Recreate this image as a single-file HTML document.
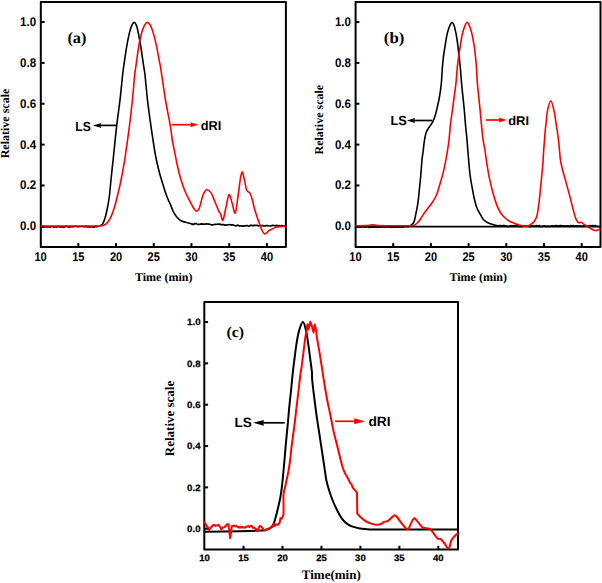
<!DOCTYPE html><html><head><meta charset="utf-8"><style>html,body{margin:0;padding:0;background:#fff;}svg{display:block;text-rendering:geometricPrecision}.tk{font-family:"Liberation Sans",sans-serif;font-weight:bold;fill:#000}.sf{font-family:"Liberation Serif",serif;font-weight:bold;fill:#000}</style></head><body>
<svg width="602" height="583" viewBox="0 0 602 583">
<rect width="602" height="583" fill="#fff"/>
<defs><marker id="ab" markerWidth="10" markerHeight="6" refX="0" refY="3" orient="auto" markerUnits="userSpaceOnUse"><path d="M0,3 L9,0 L7,3 L9,6 Z" fill="#000"/></marker></defs>
<rect x="40.8" y="2.0" width="245.09999999999997" height="244.9" fill="none" stroke="#000" stroke-width="2.0" stroke-linejoin="round"/>
<line x1="40.8" y1="226.30" x2="44.599999999999994" y2="226.30" stroke="#000" stroke-width="2"/>
<line x1="40.8" y1="185.45" x2="44.599999999999994" y2="185.45" stroke="#000" stroke-width="2"/>
<line x1="40.8" y1="144.60" x2="44.599999999999994" y2="144.60" stroke="#000" stroke-width="2"/>
<line x1="40.8" y1="103.75" x2="44.599999999999994" y2="103.75" stroke="#000" stroke-width="2"/>
<line x1="40.8" y1="62.90" x2="44.599999999999994" y2="62.90" stroke="#000" stroke-width="2"/>
<line x1="40.8" y1="22.05" x2="44.599999999999994" y2="22.05" stroke="#000" stroke-width="2"/>
<line x1="78.32" y1="246.9" x2="78.32" y2="243.1" stroke="#000" stroke-width="2"/>
<line x1="116.04" y1="246.9" x2="116.04" y2="243.1" stroke="#000" stroke-width="2"/>
<line x1="153.76" y1="246.9" x2="153.76" y2="243.1" stroke="#000" stroke-width="2"/>
<line x1="191.48" y1="246.9" x2="191.48" y2="243.1" stroke="#000" stroke-width="2"/>
<line x1="229.20" y1="246.9" x2="229.20" y2="243.1" stroke="#000" stroke-width="2"/>
<line x1="266.92" y1="246.9" x2="266.92" y2="243.1" stroke="#000" stroke-width="2"/>

<rect x="355.6" y="2.0" width="244.89999999999998" height="244.9" fill="none" stroke="#000" stroke-width="2.0" stroke-linejoin="round"/>
<line x1="355.6" y1="226.30" x2="359.40000000000003" y2="226.30" stroke="#000" stroke-width="2"/>
<line x1="355.6" y1="185.45" x2="359.40000000000003" y2="185.45" stroke="#000" stroke-width="2"/>
<line x1="355.6" y1="144.60" x2="359.40000000000003" y2="144.60" stroke="#000" stroke-width="2"/>
<line x1="355.6" y1="103.75" x2="359.40000000000003" y2="103.75" stroke="#000" stroke-width="2"/>
<line x1="355.6" y1="62.90" x2="359.40000000000003" y2="62.90" stroke="#000" stroke-width="2"/>
<line x1="355.6" y1="22.05" x2="359.40000000000003" y2="22.05" stroke="#000" stroke-width="2"/>
<line x1="393.20" y1="246.9" x2="393.20" y2="243.1" stroke="#000" stroke-width="2"/>
<line x1="430.90" y1="246.9" x2="430.90" y2="243.1" stroke="#000" stroke-width="2"/>
<line x1="468.60" y1="246.9" x2="468.60" y2="243.1" stroke="#000" stroke-width="2"/>
<line x1="506.30" y1="246.9" x2="506.30" y2="243.1" stroke="#000" stroke-width="2"/>
<line x1="544.00" y1="246.9" x2="544.00" y2="243.1" stroke="#000" stroke-width="2"/>
<line x1="581.70" y1="246.9" x2="581.70" y2="243.1" stroke="#000" stroke-width="2"/>

<rect x="204.3" y="302.0" width="253.7" height="247.60000000000002" fill="none" stroke="#000" stroke-width="2.0" stroke-linejoin="round"/>
<line x1="204.3" y1="528.75" x2="208.10000000000002" y2="528.75" stroke="#000" stroke-width="2"/>
<line x1="204.3" y1="487.40" x2="208.10000000000002" y2="487.40" stroke="#000" stroke-width="2"/>
<line x1="204.3" y1="446.05" x2="208.10000000000002" y2="446.05" stroke="#000" stroke-width="2"/>
<line x1="204.3" y1="404.70" x2="208.10000000000002" y2="404.70" stroke="#000" stroke-width="2"/>
<line x1="204.3" y1="363.35" x2="208.10000000000002" y2="363.35" stroke="#000" stroke-width="2"/>
<line x1="204.3" y1="322.00" x2="208.10000000000002" y2="322.00" stroke="#000" stroke-width="2"/>
<line x1="243.55" y1="549.6" x2="243.55" y2="545.8000000000001" stroke="#000" stroke-width="2"/>
<line x1="282.50" y1="549.6" x2="282.50" y2="545.8000000000001" stroke="#000" stroke-width="2"/>
<line x1="321.45" y1="549.6" x2="321.45" y2="545.8000000000001" stroke="#000" stroke-width="2"/>
<line x1="360.40" y1="549.6" x2="360.40" y2="545.8000000000001" stroke="#000" stroke-width="2"/>
<line x1="399.35" y1="549.6" x2="399.35" y2="545.8000000000001" stroke="#000" stroke-width="2"/>
<line x1="438.30" y1="549.6" x2="438.30" y2="545.8000000000001" stroke="#000" stroke-width="2"/>

<text class="tk" x="36.20" y="230.30" font-size="12.6" text-anchor="end" textLength="16.1" lengthAdjust="spacingAndGlyphs">0.0</text>
<text class="tk" x="36.20" y="189.45" font-size="12.6" text-anchor="end" textLength="16.1" lengthAdjust="spacingAndGlyphs">0.2</text>
<text class="tk" x="36.20" y="148.60" font-size="12.6" text-anchor="end" textLength="16.1" lengthAdjust="spacingAndGlyphs">0.4</text>
<text class="tk" x="36.20" y="107.75" font-size="12.6" text-anchor="end" textLength="16.1" lengthAdjust="spacingAndGlyphs">0.6</text>
<text class="tk" x="36.20" y="66.90" font-size="12.6" text-anchor="end" textLength="16.1" lengthAdjust="spacingAndGlyphs">0.8</text>
<text class="tk" x="36.20" y="26.05" font-size="12.6" text-anchor="end" textLength="16.1" lengthAdjust="spacingAndGlyphs">1.0</text>
<text class="tk" x="40.60" y="261" font-size="12.6" text-anchor="middle" textLength="12.3" lengthAdjust="spacingAndGlyphs">10</text>
<text class="tk" x="78.32" y="261" font-size="12.6" text-anchor="middle" textLength="12.3" lengthAdjust="spacingAndGlyphs">15</text>
<text class="tk" x="116.04" y="261" font-size="12.6" text-anchor="middle" textLength="12.3" lengthAdjust="spacingAndGlyphs">20</text>
<text class="tk" x="153.76" y="261" font-size="12.6" text-anchor="middle" textLength="12.3" lengthAdjust="spacingAndGlyphs">25</text>
<text class="tk" x="191.48" y="261" font-size="12.6" text-anchor="middle" textLength="12.3" lengthAdjust="spacingAndGlyphs">30</text>
<text class="tk" x="229.20" y="261" font-size="12.6" text-anchor="middle" textLength="12.3" lengthAdjust="spacingAndGlyphs">35</text>
<text class="tk" x="266.92" y="261" font-size="12.6" text-anchor="middle" textLength="12.3" lengthAdjust="spacingAndGlyphs">40</text>
<text class="tk" x="351.00" y="230.30" font-size="12.6" text-anchor="end" textLength="16.1" lengthAdjust="spacingAndGlyphs">0.0</text>
<text class="tk" x="351.00" y="189.45" font-size="12.6" text-anchor="end" textLength="16.1" lengthAdjust="spacingAndGlyphs">0.2</text>
<text class="tk" x="351.00" y="148.60" font-size="12.6" text-anchor="end" textLength="16.1" lengthAdjust="spacingAndGlyphs">0.4</text>
<text class="tk" x="351.00" y="107.75" font-size="12.6" text-anchor="end" textLength="16.1" lengthAdjust="spacingAndGlyphs">0.6</text>
<text class="tk" x="351.00" y="66.90" font-size="12.6" text-anchor="end" textLength="16.1" lengthAdjust="spacingAndGlyphs">0.8</text>
<text class="tk" x="351.00" y="26.05" font-size="12.6" text-anchor="end" textLength="16.1" lengthAdjust="spacingAndGlyphs">1.0</text>
<text class="tk" x="355.50" y="261" font-size="12.6" text-anchor="middle" textLength="12.3" lengthAdjust="spacingAndGlyphs">10</text>
<text class="tk" x="393.20" y="261" font-size="12.6" text-anchor="middle" textLength="12.3" lengthAdjust="spacingAndGlyphs">15</text>
<text class="tk" x="430.90" y="261" font-size="12.6" text-anchor="middle" textLength="12.3" lengthAdjust="spacingAndGlyphs">20</text>
<text class="tk" x="468.60" y="261" font-size="12.6" text-anchor="middle" textLength="12.3" lengthAdjust="spacingAndGlyphs">25</text>
<text class="tk" x="506.30" y="261" font-size="12.6" text-anchor="middle" textLength="12.3" lengthAdjust="spacingAndGlyphs">30</text>
<text class="tk" x="544.00" y="261" font-size="12.6" text-anchor="middle" textLength="12.3" lengthAdjust="spacingAndGlyphs">35</text>
<text class="tk" x="581.70" y="261" font-size="12.6" text-anchor="middle" textLength="12.3" lengthAdjust="spacingAndGlyphs">40</text>
<text class="tk" x="200.50" y="532.05" font-size="9.2" stroke="#000" stroke-width="0.25" text-anchor="end" textLength="13.4" lengthAdjust="spacingAndGlyphs">0.0</text>
<text class="tk" x="200.50" y="490.70" font-size="9.2" stroke="#000" stroke-width="0.25" text-anchor="end" textLength="13.4" lengthAdjust="spacingAndGlyphs">0.2</text>
<text class="tk" x="200.50" y="449.35" font-size="9.2" stroke="#000" stroke-width="0.25" text-anchor="end" textLength="13.4" lengthAdjust="spacingAndGlyphs">0.4</text>
<text class="tk" x="200.50" y="408.00" font-size="9.2" stroke="#000" stroke-width="0.25" text-anchor="end" textLength="13.4" lengthAdjust="spacingAndGlyphs">0.6</text>
<text class="tk" x="200.50" y="366.65" font-size="9.2" stroke="#000" stroke-width="0.25" text-anchor="end" textLength="13.4" lengthAdjust="spacingAndGlyphs">0.8</text>
<text class="tk" x="200.50" y="325.30" font-size="9.2" stroke="#000" stroke-width="0.25" text-anchor="end" textLength="13.4" lengthAdjust="spacingAndGlyphs">1.0</text>
<text class="tk" x="204.60" y="560.6" font-size="9.2" stroke="#000" stroke-width="0.25" text-anchor="middle" textLength="10.6" lengthAdjust="spacingAndGlyphs">10</text>
<text class="tk" x="243.55" y="560.6" font-size="9.2" stroke="#000" stroke-width="0.25" text-anchor="middle" textLength="10.6" lengthAdjust="spacingAndGlyphs">15</text>
<text class="tk" x="282.50" y="560.6" font-size="9.2" stroke="#000" stroke-width="0.25" text-anchor="middle" textLength="10.6" lengthAdjust="spacingAndGlyphs">20</text>
<text class="tk" x="321.45" y="560.6" font-size="9.2" stroke="#000" stroke-width="0.25" text-anchor="middle" textLength="10.6" lengthAdjust="spacingAndGlyphs">25</text>
<text class="tk" x="360.40" y="560.6" font-size="9.2" stroke="#000" stroke-width="0.25" text-anchor="middle" textLength="10.6" lengthAdjust="spacingAndGlyphs">30</text>
<text class="tk" x="399.35" y="560.6" font-size="9.2" stroke="#000" stroke-width="0.25" text-anchor="middle" textLength="10.6" lengthAdjust="spacingAndGlyphs">35</text>
<text class="tk" x="438.30" y="560.6" font-size="9.2" stroke="#000" stroke-width="0.25" text-anchor="middle" textLength="10.6" lengthAdjust="spacingAndGlyphs">40</text>
<text class="sf" transform="translate(9.0,123.5) rotate(-90)" font-size="12" text-anchor="middle">Relative scale</text>
<text class="sf" transform="translate(323.3,119.7) rotate(-90)" font-size="12" text-anchor="middle">Relative scale</text>
<text class="sf" transform="translate(173.9,418.5) rotate(-90)" font-size="13" text-anchor="middle">Relative scale</text>
<text class="sf" x="163.7" y="280.6" font-size="12" text-anchor="middle">Time (min)</text>
<text class="sf" x="478.2" y="280.8" font-size="12" text-anchor="middle">Time (min)</text>
<text class="sf" x="331.3" y="579.2" font-size="13" text-anchor="middle">Time(min)</text>
<text class="sf" x="67.4" y="42.7" font-size="16" textLength="19.0" lengthAdjust="spacingAndGlyphs">(a)</text>
<text class="sf" x="383.8" y="42.6" font-size="16" textLength="20.5" lengthAdjust="spacingAndGlyphs">(b)</text>
<text class="sf" x="226.4" y="336.8" font-size="15" textLength="17.6" lengthAdjust="spacingAndGlyphs">(c)</text>
<path d="M41.00,226.57 L42.30,227.21 L43.60,227.13 L44.90,226.67 L46.20,226.88 L47.50,226.83 L48.80,227.01 L50.10,227.13 L51.40,226.50 L52.70,226.43 L54.00,227.16 L55.30,226.79 L56.60,227.08 L57.90,226.39 L59.20,226.79 L60.50,227.03 L61.80,226.58 L63.10,227.22 L64.40,227.18 L65.70,226.39 L67.00,226.38 L68.30,226.84 L69.60,227.19 L70.90,226.69 L72.20,226.54 L73.50,226.72 L74.80,226.36 L76.10,226.53 L77.40,226.72 L78.70,226.76 L80.00,226.52 L81.30,226.52 L82.60,226.50 L83.90,226.71 L85.20,226.56 L86.50,226.31 L87.80,227.04 L89.10,226.78 L90.40,226.85 L91.70,226.44 L93.00,227.16 L94.30,227.04 L95.60,226.37 L96.90,226.55" fill="none" stroke="#000" stroke-width="1.7" stroke-linejoin="round" stroke-linecap="round"/>
<path d="M192.30,224.46 L193.60,224.46 L194.90,223.57 L196.20,223.61 L197.50,224.37 L198.80,224.28 L200.10,224.23 L201.40,223.87 L202.70,224.18 L204.00,224.19 L205.30,224.17 L206.60,223.77 L207.90,224.09 L209.20,224.10 L210.50,224.48 L211.80,224.80 L213.10,224.80 L214.40,224.45 L215.70,224.40 L217.00,224.27 L218.30,224.08 L219.60,224.13 L220.90,224.61 L222.20,224.51 L223.50,224.64 L224.80,225.21 L226.10,224.91 L227.40,225.00 L228.70,224.74 L230.00,224.59 L231.30,224.95 L232.60,224.82 L233.90,225.26 L235.20,225.81 L236.50,225.55 L237.80,225.12 L239.10,225.89 L240.40,225.85 L241.70,225.85 L243.00,226.09 L244.30,225.94 L245.60,225.93 L246.90,225.45 L248.20,226.05 L249.50,225.99 L250.80,225.15 L252.10,225.71 L253.40,225.63 L254.70,225.37 L256.00,225.46 L257.30,225.43 L258.60,225.88 L259.90,225.48 L261.20,225.82 L262.50,225.36 L263.80,225.91 L265.10,225.94 L266.40,225.52 L267.70,225.64 L269.00,226.01 L270.30,225.83 L271.60,225.61 L272.90,225.36 L274.20,225.48 L275.50,225.87 L276.80,225.35 L278.10,226.11 L279.40,225.49 L280.70,226.15 L282.00,225.56 L283.30,226.23 L284.60,225.99" fill="none" stroke="#000" stroke-width="1.7" stroke-linejoin="round" stroke-linecap="round"/>
<path d="M97.00,226.50 C97.37,226.43 98.23,226.58 99.20,226.10 C100.17,225.62 101.80,225.02 102.80,223.60 C103.80,222.18 104.43,220.20 105.20,217.60 C105.97,215.00 106.70,211.60 107.40,208.00 C108.10,204.40 108.87,200.00 109.40,196.00 C109.93,192.00 110.20,188.00 110.60,184.00 C111.00,180.00 111.38,176.00 111.80,172.00 C112.22,168.00 112.73,163.42 113.10,160.00 C113.47,156.58 113.40,157.22 114.00,151.50 C114.60,145.78 115.70,134.28 116.70,125.70 C117.70,117.12 119.02,108.45 120.00,100.00 C120.98,91.55 121.98,80.60 122.60,75.00 C123.22,69.40 123.27,69.53 123.70,66.40 C124.13,63.27 124.68,59.62 125.20,56.20 C125.72,52.78 126.20,49.33 126.80,45.90 C127.40,42.47 128.25,38.18 128.80,35.60 C129.35,33.02 129.60,32.12 130.10,30.40 C130.60,28.68 131.12,26.63 131.80,25.30 C132.48,23.97 133.43,22.40 134.20,22.40 C134.97,22.40 135.80,23.97 136.40,25.30 C137.00,26.63 137.40,28.68 137.80,30.40 C138.20,32.12 138.32,33.02 138.80,35.60 C139.28,38.18 140.13,42.47 140.70,45.90 C141.27,49.33 141.70,52.78 142.20,56.20 C142.70,59.62 143.23,63.27 143.70,66.40 C144.17,69.53 144.37,69.40 145.00,75.00 C145.63,80.60 146.52,91.55 147.50,100.00 C148.48,108.45 149.68,117.12 150.90,125.70 C152.12,134.28 153.73,145.12 154.80,151.50 C155.87,157.88 156.43,160.13 157.30,164.00 C158.17,167.87 159.13,171.53 160.00,174.70 C160.87,177.87 161.65,180.20 162.50,183.00 C163.35,185.80 164.23,188.92 165.10,191.50 C165.97,194.08 166.83,196.37 167.70,198.50 C168.57,200.63 169.22,201.82 170.30,204.30 C171.38,206.78 172.63,210.80 174.20,213.40 C175.77,216.00 177.82,218.42 179.70,219.90 C181.58,221.38 183.40,221.62 185.50,222.30 C187.60,222.98 191.17,223.72 192.30,224.00" fill="none" stroke="#000" stroke-width="1.6" stroke-linejoin="round" stroke-linecap="round"/>
<path d="M41.00,226.00 C45.83,226.00 61.50,226.00 70.00,226.00 C78.50,226.00 86.73,226.03 92.00,226.00 C97.27,225.97 99.20,226.20 101.60,225.80 C104.00,225.40 104.90,224.97 106.40,223.60 C107.90,222.23 109.30,220.20 110.60,217.60 C111.90,215.00 113.07,211.60 114.20,208.00 C115.33,204.40 116.40,200.00 117.40,196.00 C118.40,192.00 119.33,188.00 120.20,184.00 C121.07,180.00 121.85,176.00 122.60,172.00 C123.35,168.00 124.15,163.42 124.70,160.00 C125.25,156.58 125.10,157.22 125.90,151.50 C126.70,145.78 128.42,134.28 129.50,125.70 C130.58,117.12 131.53,108.45 132.40,100.00 C133.27,91.55 134.12,80.60 134.70,75.00 C135.28,69.40 135.47,69.53 135.90,66.40 C136.33,63.27 136.82,59.62 137.30,56.20 C137.78,52.78 138.20,49.33 138.80,45.90 C139.40,42.47 140.30,38.18 140.90,35.60 C141.50,33.02 141.80,32.12 142.40,30.40 C143.00,28.68 143.70,26.67 144.50,25.30 C145.30,23.93 146.23,22.20 147.20,22.20 C148.17,22.20 149.42,23.93 150.30,25.30 C151.18,26.67 151.88,28.68 152.50,30.40 C153.12,32.12 153.33,33.02 154.00,35.60 C154.67,38.18 155.77,42.47 156.50,45.90 C157.23,49.33 157.75,52.78 158.40,56.20 C159.05,59.62 159.85,63.27 160.40,66.40 C160.95,69.53 160.85,69.40 161.70,75.00 C162.55,80.60 164.07,91.55 165.50,100.00 C166.93,108.45 169.17,119.03 170.30,125.70 C171.43,132.37 171.55,135.47 172.30,140.00 C173.05,144.53 173.95,148.62 174.80,152.90 C175.65,157.18 176.43,161.42 177.40,165.70 C178.37,169.98 179.32,174.30 180.60,178.60 C181.88,182.90 183.50,187.63 185.10,191.50 C186.70,195.37 188.68,198.88 190.20,201.80 C191.72,204.72 193.13,207.42 194.20,209.00 C195.27,210.58 195.75,211.42 196.60,211.30 C197.45,211.18 198.27,210.90 199.30,208.30 C200.33,205.70 201.60,198.78 202.80,195.70 C204.00,192.62 205.12,190.27 206.50,189.80 C207.88,189.33 209.73,191.00 211.10,192.90 C212.47,194.80 213.48,198.30 214.70,201.20 C215.92,204.10 217.42,208.17 218.40,210.30 C219.38,212.43 219.85,212.33 220.60,214.00 C221.35,215.67 222.05,221.22 222.90,220.30 C223.75,219.38 224.68,212.75 225.70,208.50 C226.72,204.25 227.93,195.72 229.00,194.80 C230.07,193.88 231.07,199.97 232.10,203.00 C233.13,206.03 234.20,214.22 235.20,213.00 C236.20,211.78 237.25,201.33 238.10,195.70 C238.95,190.07 239.63,183.17 240.30,179.20 C240.97,175.23 241.43,171.90 242.10,171.90 C242.77,171.90 243.53,176.15 244.30,179.20 C245.07,182.25 245.78,187.92 246.70,190.20 C247.62,192.48 248.88,191.38 249.80,192.90 C250.72,194.42 251.35,196.40 252.20,199.30 C253.05,202.20 253.83,206.63 254.90,210.30 C255.97,213.97 257.53,218.25 258.60,221.30 C259.67,224.35 260.33,226.48 261.30,228.60 C262.27,230.72 263.03,233.70 264.40,234.00 C265.77,234.30 267.43,231.55 269.50,230.40 C271.57,229.25 274.20,227.77 276.80,227.10 C279.40,226.43 283.72,226.52 285.10,226.40" fill="none" stroke="#ff0000" stroke-width="1.6" stroke-linejoin="round" stroke-linecap="round"/>
<path d="M356.00,226.76 L357.30,227.03 L358.60,226.87 L359.90,227.08 L361.20,227.09 L362.50,226.58 L363.80,226.53 L365.10,227.27 L366.40,226.74 L367.70,226.72 L369.00,227.40 L370.30,226.92 L371.60,227.24 L372.90,226.91 L374.20,227.06 L375.50,226.61 L376.80,227.04 L378.10,227.25 L379.40,226.93 L380.70,227.12 L382.00,227.05 L383.30,226.50 L384.60,227.12 L385.90,226.97 L387.20,226.70 L388.50,226.45 L389.80,227.20 L391.10,226.84 L392.40,227.06 L393.70,227.20 L395.00,227.04 L396.30,227.22 L397.60,226.75 L398.90,227.11 L400.20,226.78 L401.50,227.22 L402.80,227.16 L404.10,226.45 L405.40,226.48 L406.70,226.55" fill="none" stroke="#000" stroke-width="1.7" stroke-linejoin="round" stroke-linecap="round"/>
<path d="M499.00,225.71 L500.30,225.56 L501.60,225.89 L502.90,225.62 L504.20,225.52 L505.50,225.89 L506.80,226.46 L508.10,226.33 L509.40,226.29 L510.70,225.69 L512.00,226.04 L513.30,225.75 L514.60,225.64 L515.90,225.57 L517.20,225.69 L518.50,226.47 L519.80,226.36 L521.10,226.34 L522.40,226.33 L523.70,225.66 L525.00,225.79 L526.30,226.14 L527.60,226.26 L528.90,226.39 L530.20,226.42 L531.50,225.55 L532.80,226.12 L534.10,226.19 L535.40,226.01 L536.70,225.65 L538.00,225.97 L539.30,225.55 L540.60,226.48 L541.90,226.40 L543.20,226.05 L544.50,225.78 L545.80,226.45 L547.10,226.08 L548.40,226.42 L549.70,226.38 L551.00,226.01 L552.30,225.91 L553.60,226.11 L554.90,225.92 L556.20,225.63 L557.50,225.79 L558.80,226.34 L560.10,225.50 L561.40,225.50 L562.70,226.14 L564.00,225.76 L565.30,226.04 L566.60,225.97 L567.90,225.83 L569.20,226.55 L570.50,225.67 L571.80,225.90 L573.10,225.67 L574.40,226.15 L575.70,225.75 L577.00,225.84 L578.30,226.27 L579.60,225.80 L580.90,226.06 L582.20,226.44 L583.50,225.56 L584.80,225.52 L586.10,225.70 L587.40,226.29 L588.70,226.13 L590.00,225.71 L591.30,225.81 L592.60,225.65 L593.90,225.95 L595.20,225.50 L596.50,226.22 L597.80,226.44 L599.10,226.50" fill="none" stroke="#000" stroke-width="1.7" stroke-linejoin="round" stroke-linecap="round"/>
<path d="M407.00,226.50 C407.33,226.45 408.23,226.47 409.00,226.20 C409.77,225.93 410.75,225.67 411.60,224.90 C412.45,224.13 413.40,223.40 414.10,221.60 C414.80,219.80 415.27,216.60 415.80,214.10 C416.33,211.60 416.85,209.23 417.30,206.60 C417.75,203.97 418.17,201.07 418.50,198.30 C418.83,195.53 418.95,193.52 419.30,190.00 C419.65,186.48 420.15,182.20 420.60,177.20 C421.05,172.20 421.55,164.53 422.00,160.00 C422.45,155.47 422.92,153.12 423.30,150.00 C423.68,146.88 423.85,144.12 424.30,141.30 C424.75,138.48 425.38,135.15 426.00,133.10 C426.62,131.05 427.20,130.37 428.00,129.00 C428.80,127.63 429.93,126.27 430.80,124.90 C431.67,123.53 432.45,122.40 433.20,120.80 C433.95,119.20 434.67,117.37 435.30,115.30 C435.93,113.23 436.32,111.38 437.00,108.40 C437.68,105.42 438.68,101.52 439.40,97.40 C440.12,93.28 440.83,88.27 441.30,83.70 C441.77,79.13 441.83,74.58 442.20,70.00 C442.57,65.42 443.02,60.22 443.50,56.20 C443.98,52.18 444.55,49.33 445.10,45.90 C445.65,42.47 446.30,38.18 446.80,35.60 C447.30,33.02 447.57,32.12 448.10,30.40 C448.63,28.68 449.35,26.63 450.00,25.30 C450.65,23.97 451.33,22.40 452.00,22.40 C452.67,22.40 453.45,23.97 454.00,25.30 C454.55,26.63 454.90,28.68 455.30,30.40 C455.70,32.12 455.97,33.02 456.40,35.60 C456.83,38.18 457.47,42.47 457.90,45.90 C458.33,49.33 458.62,52.78 459.00,56.20 C459.38,59.62 459.77,61.82 460.20,66.40 C460.63,70.98 461.13,78.53 461.60,83.70 C462.07,88.87 462.53,92.82 463.00,97.40 C463.47,101.98 463.98,106.62 464.40,111.20 C464.82,115.78 465.08,120.33 465.50,124.90 C465.92,129.47 466.52,134.42 466.90,138.60 C467.28,142.78 467.37,144.77 467.80,150.00 C468.23,155.23 469.00,165.00 469.50,170.00 C470.00,175.00 470.28,176.67 470.80,180.00 C471.32,183.33 472.03,186.95 472.60,190.00 C473.17,193.05 473.57,195.53 474.20,198.30 C474.83,201.07 475.67,204.43 476.40,206.60 C477.13,208.77 477.90,209.92 478.60,211.30 C479.30,212.68 479.73,213.45 480.60,214.90 C481.47,216.35 482.30,218.55 483.80,220.00 C485.30,221.45 487.42,222.68 489.60,223.60 C491.78,224.52 495.17,225.10 496.90,225.50 C498.63,225.90 499.48,225.92 500.00,226.00" fill="none" stroke="#000" stroke-width="1.6" stroke-linejoin="round" stroke-linecap="round"/>
<line x1="356" y1="226.6" x2="600" y2="226.6" stroke="#000" stroke-width="1.6"/>
<path d="M356.00,225.70 C357.67,225.68 363.27,225.73 366.00,225.60 C368.73,225.47 370.40,224.90 372.40,224.90 C374.40,224.90 374.23,225.45 378.00,225.60 C381.77,225.75 390.17,225.77 395.00,225.80 C399.83,225.83 404.57,225.80 407.00,225.80 C409.43,225.80 408.60,225.85 409.60,225.80 C410.60,225.75 412.10,225.65 413.00,225.50 C413.90,225.35 414.25,225.35 415.00,224.90 C415.75,224.45 416.72,223.58 417.50,222.80 C418.28,222.02 418.70,221.65 419.70,220.20 C420.70,218.75 422.10,216.15 423.50,214.10 C424.90,212.05 426.55,209.97 428.10,207.90 C429.65,205.83 431.60,203.43 432.80,201.70 C434.00,199.97 434.53,199.03 435.30,197.50 C436.07,195.97 436.58,194.88 437.40,192.50 C438.22,190.12 439.17,186.80 440.20,183.20 C441.23,179.60 442.52,175.53 443.60,170.90 C444.68,166.27 445.80,160.55 446.70,155.40 C447.60,150.25 448.38,145.08 449.00,140.00 C449.62,134.92 449.85,129.70 450.40,124.90 C450.95,120.10 451.68,115.78 452.30,111.20 C452.92,106.62 453.50,101.98 454.10,97.40 C454.70,92.82 455.35,88.87 455.90,83.70 C456.45,78.53 456.93,70.98 457.40,66.40 C457.87,61.82 458.22,59.62 458.70,56.20 C459.18,52.78 459.75,49.33 460.30,45.90 C460.85,42.47 461.50,38.18 462.00,35.60 C462.50,33.02 462.78,32.12 463.30,30.40 C463.82,28.68 464.45,26.67 465.10,25.30 C465.75,23.93 466.52,22.20 467.20,22.20 C467.88,22.20 468.57,23.93 469.20,25.30 C469.83,26.67 470.48,28.68 471.00,30.40 C471.52,32.12 471.77,33.02 472.30,35.60 C472.83,38.18 473.68,42.47 474.20,45.90 C474.72,49.33 475.03,52.78 475.40,56.20 C475.77,59.62 476.07,61.82 476.40,66.40 C476.73,70.98 477.00,78.53 477.40,83.70 C477.80,88.87 478.33,92.82 478.80,97.40 C479.27,101.98 479.75,106.62 480.20,111.20 C480.65,115.78 481.05,120.33 481.50,124.90 C481.95,129.47 482.33,134.42 482.90,138.60 C483.47,142.78 484.22,145.67 484.90,150.00 C485.58,154.33 486.22,159.73 487.00,164.60 C487.78,169.47 488.57,174.33 489.60,179.20 C490.63,184.07 491.98,189.43 493.20,193.80 C494.42,198.17 495.68,202.25 496.90,205.40 C498.12,208.55 499.05,210.52 500.50,212.70 C501.95,214.88 504.02,217.03 505.60,218.50 C507.18,219.97 508.42,220.65 510.00,221.50 C511.58,222.35 513.15,222.88 515.10,223.60 C517.05,224.32 519.88,225.38 521.70,225.80 C523.52,226.22 524.67,226.22 526.00,226.10 C527.33,225.98 528.35,225.87 529.70,225.10 C531.05,224.33 532.88,223.08 534.10,221.50 C535.32,219.92 536.15,219.02 537.00,215.60 C537.85,212.18 538.47,207.07 539.20,201.00 C539.93,194.93 540.80,185.27 541.40,179.20 C542.00,173.13 542.42,169.47 542.80,164.60 C543.18,159.73 543.43,153.87 543.70,150.00 C543.97,146.13 544.15,144.53 544.40,141.40 C544.65,138.27 544.88,134.62 545.20,131.20 C545.52,127.78 545.92,124.33 546.30,120.90 C546.68,117.47 546.75,113.95 547.50,110.60 C548.25,107.25 549.72,100.80 550.80,100.80 C551.88,100.80 553.18,107.25 554.00,110.60 C554.82,113.95 555.15,117.47 555.70,120.90 C556.25,124.33 556.82,127.78 557.30,131.20 C557.78,134.62 558.23,138.27 558.60,141.40 C558.97,144.53 559.18,146.83 559.50,150.00 C559.82,153.17 559.87,156.60 560.50,160.40 C561.13,164.20 562.32,168.93 563.30,172.80 C564.28,176.67 565.20,179.23 566.40,183.60 C567.60,187.97 569.40,194.77 570.50,199.00 C571.60,203.23 572.13,205.80 573.00,209.00 C573.87,212.20 574.90,216.02 575.70,218.20 C576.50,220.38 577.12,221.37 577.80,222.10 C578.48,222.83 579.17,222.55 579.80,222.60 C580.43,222.65 580.80,222.03 581.60,222.40 C582.40,222.77 583.30,223.90 584.60,224.80 C585.90,225.70 587.80,226.90 589.40,227.80 C591.00,228.70 593.05,229.73 594.20,230.20 C595.35,230.67 595.38,230.77 596.30,230.60 C597.22,230.43 599.13,229.43 599.70,229.20" fill="none" stroke="#ff0000" stroke-width="1.6" stroke-linejoin="round" stroke-linecap="round"/>
<path d="M205.00,531.80 C210.83,531.70 230.83,531.40 240.00,531.20 C249.17,531.00 255.83,530.78 260.00,530.60 C264.17,530.42 263.33,530.48 265.00,530.10 C266.67,529.72 268.63,529.18 270.00,528.30 C271.37,527.42 272.27,526.58 273.20,524.80 C274.13,523.02 274.80,520.40 275.60,517.60 C276.40,514.80 277.17,511.60 278.00,508.00 C278.83,504.40 279.90,500.00 280.60,496.00 C281.30,492.00 281.73,488.00 282.20,484.00 C282.67,480.00 283.02,476.00 283.40,472.00 C283.78,468.00 284.15,464.00 284.50,460.00 C284.85,456.00 285.15,452.00 285.50,448.00 C285.85,444.00 286.22,440.00 286.60,436.00 C286.98,432.00 287.43,428.00 287.80,424.00 C288.17,420.00 288.43,416.00 288.80,412.00 C289.17,408.00 289.62,403.67 290.00,400.00 C290.38,396.33 290.62,394.72 291.10,390.00 C291.58,385.28 292.32,377.03 292.90,371.70 C293.48,366.37 294.02,362.57 294.60,358.00 C295.18,353.43 295.65,348.87 296.40,344.30 C297.15,339.73 298.00,334.30 299.10,330.60 C300.20,326.90 301.85,322.10 303.00,322.10 C304.15,322.10 305.12,326.90 306.00,330.60 C306.88,334.30 307.62,339.73 308.30,344.30 C308.98,348.87 309.50,353.43 310.10,358.00 C310.70,362.57 311.55,368.03 311.90,371.70 C312.25,375.37 311.82,375.75 312.20,380.00 C312.58,384.25 313.50,391.48 314.20,397.20 C314.90,402.92 315.60,408.58 316.40,414.30 C317.20,420.02 318.13,425.78 319.00,431.50 C319.87,437.22 320.73,442.88 321.60,448.60 C322.47,454.32 323.42,460.57 324.20,465.80 C324.98,471.03 325.50,475.97 326.30,480.00 C327.10,484.03 327.97,486.67 329.00,490.00 C330.03,493.33 331.17,496.67 332.50,500.00 C333.83,503.33 335.52,507.02 337.00,510.00 C338.48,512.98 339.92,515.75 341.40,517.90 C342.88,520.05 344.15,521.48 345.90,522.90 C347.65,524.32 349.57,525.48 351.90,526.40 C354.23,527.32 356.90,527.90 359.90,528.40 C362.90,528.90 366.55,529.22 369.90,529.40 C373.25,529.58 365.32,529.48 380.00,529.50 C394.68,529.52 445.00,529.50 458.00,529.50" fill="none" stroke="#000" stroke-width="2.0" stroke-linejoin="round" stroke-linecap="round"/>
<path d="M204.60,522.40 L206.30,525.30 L207.75,527.33 L209.20,530.00 L210.37,527.80 L211.53,527.14 L212.70,525.30 L214.15,524.83 L215.60,525.90 L217.05,525.41 L218.50,524.80 L219.95,526.86 L221.40,529.40 L222.85,527.45 L224.30,527.10 L225.67,526.15 L227.03,524.33 L228.40,524.20 L230.20,538.10 L231.90,525.90 L233.07,525.98 L234.23,525.53 L235.40,526.50 L236.56,526.00 L237.72,526.84 L238.88,527.81 L240.04,526.78 L241.20,527.70 L242.36,526.96 L243.52,527.45 L244.68,527.79 L245.84,526.88 L247.00,526.50 L248.17,526.11 L249.33,526.96 L250.50,525.90 L251.67,525.68 L252.83,527.75 L254.00,527.70 L255.17,528.49 L256.33,529.39 L257.50,531.20 L258.65,527.86 L259.80,525.90 L261.15,526.66 L262.50,528.10 L263.75,529.92 L265.00,530.60 L266.10,529.33 L267.20,529.35 L268.30,528.50 L269.53,528.32 L270.77,527.40 L272.00,527.20 L273.80,523.60 L274.40,526.00 L276.20,524.20 L278.00,524.80 L279.80,522.40 L280.40,518.20 L281.60,518.80 L283.40,515.20 L283.60,508.00 L283.40,496.00 L283.80,492.40 L285.80,484.00 L288.40,471.50 L290.20,460.00 L291.40,448.00 L293.00,436.00 L294.60,424.00 L296.00,412.00 L297.40,400.00 L298.60,390.00 L299.60,381.00 L300.30,376.00 L299.70,378.80 L301.90,364.90 L303.60,351.20 L305.20,338.00 L306.20,332.50 L307.50,324.20 L308.50,329.60 L310.30,321.80 L312.00,326.70 L313.60,332.50 L314.70,324.60 L316.10,329.60  L316.10,329.60 C316.23,330.90 316.37,333.80 316.90,337.40 C317.43,341.00 318.53,346.62 319.30,351.20 C320.07,355.78 320.75,360.10 321.50,364.90 C322.25,369.70 322.93,374.62 323.80,380.00 C324.67,385.38 325.63,391.48 326.70,397.20 C327.77,402.92 329.05,408.58 330.20,414.30 C331.35,420.02 332.32,425.78 333.60,431.50 C334.88,437.22 336.47,442.88 337.90,448.60 C339.33,454.32 341.07,461.80 342.20,465.80 C343.33,469.80 343.77,470.57 344.70,472.60 C345.63,474.63 346.93,476.35 347.80,478.00 C348.67,479.65 349.28,481.42 349.90,482.50 C350.52,483.58 351.03,483.68 351.50,484.50 C351.97,485.32 352.15,486.48 352.70,487.40 C353.25,488.32 354.08,489.10 354.80,490.00 C355.52,490.90 356.63,492.33 357.00,492.80 L357.3,513.8  L357.30,513.80 C357.92,514.42 359.48,516.18 361.00,517.50 C362.52,518.82 364.58,520.63 366.40,521.70 C368.22,522.77 370.07,523.38 371.90,523.90 C373.73,524.42 375.72,524.87 377.40,524.80 C379.08,524.73 380.93,523.97 382.00,523.50 C383.07,523.03 382.73,522.48 383.80,522.00 C384.87,521.52 386.72,521.67 388.40,520.60 C390.08,519.53 392.53,516.28 393.90,515.60 C395.27,514.92 395.23,515.12 396.60,516.50 C397.97,517.88 400.27,521.77 402.10,523.90 C403.93,526.03 406.08,529.47 407.60,529.30 C409.12,529.13 410.13,524.72 411.20,522.90 C412.27,521.08 413.08,518.78 414.00,518.40 C414.92,518.02 415.33,519.15 416.70,520.60 C418.07,522.05 420.53,525.80 422.20,527.10 C423.87,528.40 425.33,528.03 426.70,528.40 C428.07,528.77 429.18,528.38 430.40,529.30 C431.62,530.22 432.78,532.32 434.00,533.90 C435.22,535.48 436.63,537.98 437.70,538.80 C438.77,539.62 439.33,538.10 440.40,538.80 C441.47,539.50 442.72,541.38 444.10,543.00 C445.48,544.62 447.48,548.95 448.70,548.50 C449.92,548.05 450.33,542.43 451.40,540.30 C452.47,538.17 454.03,536.85 455.10,535.70 C456.17,534.55 457.35,533.78 457.80,533.40" fill="none" stroke="#ff0000" stroke-width="2.0" stroke-linejoin="round" stroke-linecap="round"/>
<line x1="99.70" y1="125.4" x2="116.8" y2="125.4" stroke="#000" stroke-width="1.7"/><path d="M93.0,125.4 L101.40,122.90 L100.20,125.4 L101.40,127.90 Z" fill="#000"/>
<line x1="172" y1="124.7" x2="191.90" y2="124.7" stroke="#ff0000" stroke-width="1.7"/><path d="M198.6,124.7 L190.20,122.20 L191.40,124.7 L190.20,127.20 Z" fill="#ff0000"/>
<line x1="413.50" y1="120.5" x2="432.3" y2="120.5" stroke="#000" stroke-width="1.7"/><path d="M406.8,120.5 L415.20,118.00 L414.00,120.5 L415.20,123.00 Z" fill="#000"/>
<line x1="486" y1="120.0" x2="500.30" y2="120.0" stroke="#ff0000" stroke-width="1.7"/><path d="M507.0,120.0 L498.60,117.50 L499.80,120.0 L498.60,122.50 Z" fill="#ff0000"/>
<line x1="262.60" y1="422.8" x2="284.7" y2="422.8" stroke="#000" stroke-width="1.7"/><path d="M253.0,422.8 L264.00,419.90 L263.10,422.8 L264.00,425.70 Z" fill="#000"/>
<line x1="335.2" y1="421.3" x2="355.10" y2="421.3" stroke="#ff0000" stroke-width="1.7"/><path d="M365.0,421.3 L354.00,418.30 L354.60,421.3 L354.00,424.30 Z" fill="#ff0000"/>
<text class="tk" x="75.3" y="130.8" font-size="13.2" textLength="15.5" lengthAdjust="spacingAndGlyphs">LS</text>
<text class="tk" x="200.8" y="130.2" font-size="12.9" textLength="20.6" lengthAdjust="spacingAndGlyphs">dRI</text>
<text class="tk" x="390.4" y="125.4" font-size="13.2" textLength="16.3" lengthAdjust="spacingAndGlyphs">LS</text>
<text class="tk" x="508.2" y="124.9" font-size="12.7" textLength="20.8" lengthAdjust="spacingAndGlyphs">dRI</text>
<text class="tk" x="234.4" y="427.4" font-size="13.5" textLength="17.4" lengthAdjust="spacingAndGlyphs">LS</text>
<text class="tk" x="368.4" y="426.0" font-size="13.3" textLength="22.2" lengthAdjust="spacingAndGlyphs">dRI</text>
</svg></body></html>
